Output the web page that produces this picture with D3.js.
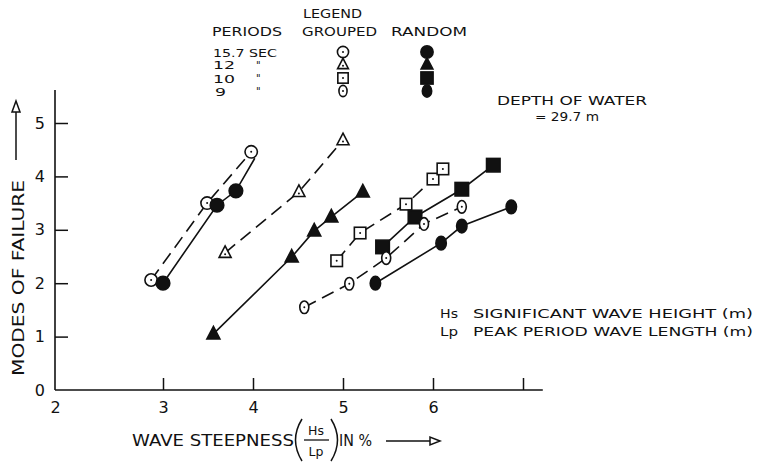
<!DOCTYPE html>
<html><head><meta charset="utf-8">
<script src="https://cdn.jsdelivr.net/npm/d3@7"></script>
<style>
html,body{margin:0;padding:0;background:#fff;}
svg text{font-family:"DejaVu Sans",sans-serif;fill:#111;}
</style></head>
<body><svg id="c" width="758" height="462"></svg>
<script>
// ---- data (wave steepness %, modes of failure) ----
const periods = ["15.7 SEC", "12", "10", "9"];
const grouped157 = [[2.89,2.06],[3.49,3.50],[3.98,4.46]];
const random157  = [[3.00,2.00],[3.60,3.46],[3.81,3.73]];
const random157LineEnd = [4.02,4.34];
const grouped12  = [[3.69,2.57],[4.51,3.71],[5.00,4.68]];
const random12   = [[3.56,1.05],[4.43,2.49],[4.68,2.98],[4.87,3.24],[5.22,3.71]];
const grouped10  = [[4.93,2.42],[5.19,2.94],[5.70,3.48],[6.00,3.95],[6.11,4.14]];
const random10   = [[5.44,2.68],[5.80,3.24],[6.32,3.76],[6.67,4.21]];
const grouped9   = [[4.57,1.55],[5.07,1.99],[5.48,2.47],[5.90,3.11],[6.32,3.43]];
const random9    = [[5.36,2.00],[6.09,2.75],[6.32,3.07],[6.87,3.43]];
const xTicks = [2,3,4,5,6,7];
const xTickLabels = ["2","3","4","5","6",""];
const yTicks = [0,1,2,3,4,5];

const svg = d3.select("#c");
const x = d3.scaleLinear().domain([2,3,7]).range([55,163,523]);
const y = d3.scaleLinear().domain([0,5]).range([390,123]);
const ink = "#111";

// axes
const xAxis = d3.axisBottom(x).tickValues(xTicks).tickSizeInner(-12).tickSizeOuter(0)
  .tickPadding(12).tickFormat((d,i)=>xTickLabels[i]);
const gx = svg.append("g").attr("transform","translate(0,390)").call(xAxis);
gx.select(".domain").remove();
gx.selectAll(".tick line").attr("stroke",ink).attr("stroke-width",1.5);
gx.selectAll(".tick").filter(d=>d===2).select("line").remove();
gx.selectAll("text").attr("font-size",16).attr("fill",ink).attr("font-family","DejaVu Sans");
const yAxis = d3.axisLeft(y).tickValues(yTicks).tickFormat(d3.format("d"))
  .tickSizeInner(-13).tickSizeOuter(0).tickPadding(10);
const gy = svg.append("g").attr("transform","translate(55,0)").call(yAxis);
gy.select(".domain").remove();
gy.selectAll(".tick line").attr("stroke",ink).attr("stroke-width",1.5);
gy.selectAll(".tick").filter(d=>d===0).select("line").remove();
gy.selectAll("text").attr("font-size",16).attr("fill",ink).attr("font-family","DejaVu Sans");
svg.append("line").attr("x1",x(2)).attr("x2",x(2)).attr("y1",y(5.62)).attr("y2",y(0))
  .attr("stroke",ink).attr("stroke-width",1.6);
svg.append("line").attr("x1",x(2)).attr("x2",x(7.22)).attr("y1",y(0)).attr("y2",y(0))
  .attr("stroke",ink).attr("stroke-width",1.6);

// marker drawing
function marker(g, shape, filled, cx, cy, s){
  s = s || 1;
  const fill = filled ? ink : "#fff";
  let el;
  if(shape==="circle"){
    el = g.append("circle").attr("cx",cx).attr("cy",cy).attr("r",(filled?6.8:6.2)*s);
  } else if(shape==="triangle"){
    const h=(filled?12.5:11.5)*s, w=(filled?13:12)*s;
    el = g.append("path").attr("d",`M${cx},${cy-h*0.6}L${cx+w/2},${cy+h*0.4}L${cx-w/2},${cy+h*0.4}Z`);
  } else if(shape==="square"){
    const a=(filled?13.5:11.5)*s;
    el = g.append("rect").attr("x",cx-a/2).attr("y",cy-a/2).attr("width",a).attr("height",a);
  } else {
    el = g.append("ellipse").attr("cx",cx).attr("cy",cy).attr("rx",(filled?5.2:4.5)*s).attr("ry",(filled?6.8:6.3)*s);
  }
  el.attr("fill",fill).attr("stroke",ink).attr("stroke-width",1.6);
  if(!filled) g.append("circle").attr("cx",cx).attr("cy",cy+(shape==="triangle"?1.5*s:0)).attr("r",1).attr("fill",ink);
}

const series = [
  {pts:grouped157, shape:"circle",   filled:false},
  {pts:random157,  shape:"circle",   filled:true, ext:random157LineEnd},
  {pts:grouped12,  shape:"triangle", filled:false},
  {pts:random12,   shape:"triangle", filled:true},
  {pts:grouped10,  shape:"square",   filled:false},
  {pts:random10,   shape:"square",   filled:true},
  {pts:grouped9,   shape:"ellipse",  filled:false},
  {pts:random9,    shape:"ellipse",  filled:true}
];
const line = d3.line().x(d=>x(d[0])).y(d=>y(d[1]));
const gl = svg.append("g"), gm = svg.append("g");
series.forEach(s=>{
  const lp = s.ext ? s.pts.concat([s.ext]) : s.pts;
  gl.append("path").attr("d",line(lp)).attr("fill","none").attr("stroke",ink)
    .attr("stroke-width",1.6).attr("stroke-dasharray",s.filled?null:"13,7");
  s.pts.forEach(p=>marker(gm, s.shape, s.filled, x(p[0]), y(p[1])));
});

// legend
function txt(t,xp,yp,size,anchor,len){
  const e = svg.append("text").attr("x",xp).attr("y",yp).attr("font-size",size)
    .attr("text-anchor",anchor||"start").text(t);
  if(len) e.attr("textLength",len).attr("lengthAdjust","spacingAndGlyphs");
  return e;
}
txt("LEGEND",303,18,12,"start",59);
txt("PERIODS",212,36,12,"start",70);
txt("GROUPED",302,36,12,"start",75);
txt("RANDOM",391,36,12,"start",76);
const rowY = [52,64.5,78,91];
const shapes = ["circle","triangle","square","ellipse"];
periods.forEach((p,i)=>{
  const xp = i===3 ? 215 : 213;
  if(i===0) txt(p,xp,rowY[i]+4.5,11,"start",64);
  else { txt(p,xp,rowY[i]+4.5,11,"start",p.length*11); txt("\"",256,rowY[i]+4,10,"start"); }
  marker(svg, shapes[i], false, 343, rowY[i], 0.9);
  marker(svg, shapes[i], true, 427, rowY[i], 0.9);
});

// notes
txt("DEPTH OF WATER",497,105,12.5,"start",150);
txt("= 29.7 m",535,121,12.5,"start",64);
txt("Hs",440,318,12.5,"start",18);
txt("SIGNIFICANT WAVE HEIGHT (m)",473,318,12.5,"start",280);
txt("Lp",440,336,12.5,"start",18);
txt("PEAK PERIOD WAVE LENGTH (m)",473,336,12.5,"start",280);

// axis titles
svg.append("text").attr("transform","translate(24,278) rotate(-90)")
  .attr("text-anchor","middle").attr("font-size",15).text("MODES OF FAILURE")
  .attr("textLength",196).attr("lengthAdjust","spacingAndGlyphs");
svg.append("line").attr("x1",16).attr("x2",16).attr("y1",160).attr("y2",112).attr("stroke",ink).attr("stroke-width",1.5);
svg.append("path").attr("d","M16,101L20,112L12,112Z").attr("fill","#fff").attr("stroke",ink).attr("stroke-width",1.5);

txt("WAVE STEEPNESS",132,446,15,"start",162);
svg.append("path").attr("d","M302,419Q289,440 302,461").attr("fill","none").attr("stroke",ink).attr("stroke-width",1.5);
svg.append("path").attr("d","M331,419Q344,440 331,461").attr("fill","none").attr("stroke",ink).attr("stroke-width",1.5);
txt("Hs",316,435,12.5,"middle");
svg.append("line").attr("x1",304).attr("x2",329).attr("y1",440).attr("y2",440).attr("stroke",ink).attr("stroke-width",1.3);
txt("Lp",316,456,12.5,"middle");
txt("IN %",339,446,15,"start",33);
svg.append("line").attr("x1",386).attr("x2",430).attr("y1",441).attr("y2",441).attr("stroke",ink).attr("stroke-width",1.5);
svg.append("path").attr("d","M440,441L430,437L430,445Z").attr("fill","#fff").attr("stroke",ink).attr("stroke-width",1.5);
</script></body></html>
